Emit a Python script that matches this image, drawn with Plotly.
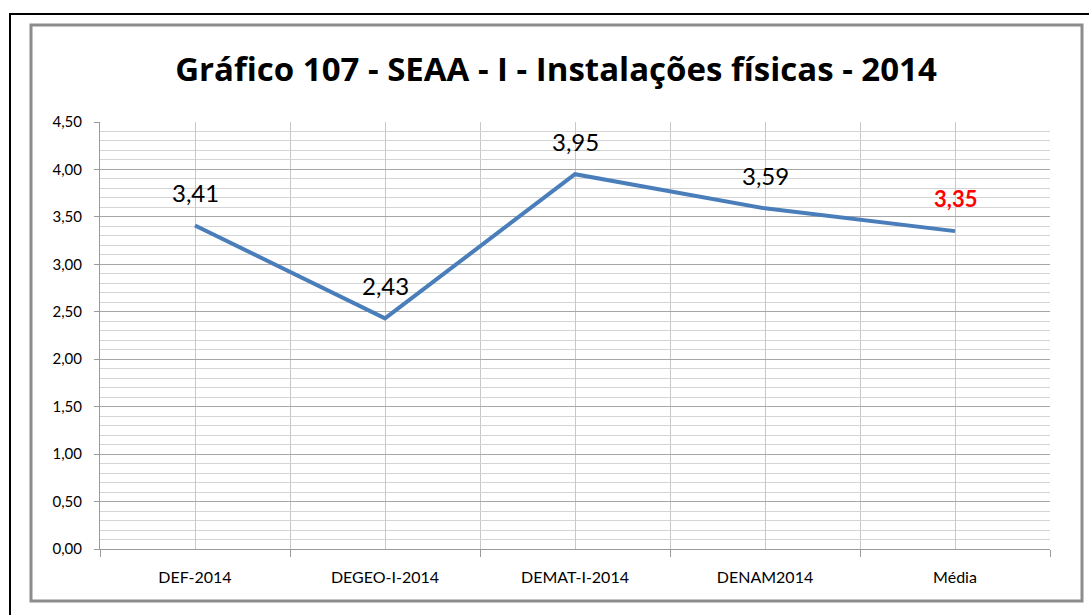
import plotly.graph_objects as go

categories = ["DEF-2014", "DEGEO-I-2014", "DEMAT-I-2014", "DENAM2014", "Média"]
values = [3.41, 2.43, 3.95, 3.59, 3.35]
title_text = "Gráfico 107 - SEAA - I - Instalações físicas - 2014"

W, H = 1089, 615
L, R, T, B = 100, 39, 122, 66
pw, ph = W - L - R, H - T - B

def px_x(v):
    return (v - L) / pw

def px_y(v):
    return (H - B - v) / ph

xs = list(range(len(categories)))

fig = go.Figure()
fig.add_trace(go.Scatter(
    x=xs, y=values, mode="lines",
    line=dict(color="#4a7ebb", width=4),
    hoverinfo="skip", showlegend=False,
))

# value labels above each point
for i, (x, v) in enumerate(zip(xs, values)):
    last = i == len(values) - 1
    fig.add_annotation(
        x=x, y=v, text=f"{v:.2f}".replace(".", ","),
        showarrow=False, yshift=33,
        font=dict(family="Lato", size=24 if not last else 22,
                  color="#ff0000" if last else "#000000",
                  weight="bold" if last else "normal"),
    )

# outer frame and inner chart border
fig.add_shape(type="rect", xref="paper", yref="paper",
              x0=px_x(10), x1=px_x(1100), y0=px_y(14), y1=px_y(630),
              line=dict(color="#000000", width=2), layer="above")
fig.add_shape(type="rect", xref="paper", yref="paper",
              x0=px_x(31), x1=px_x(1082), y0=px_y(25), y1=px_y(601),
              line=dict(color="#8c8c8c", width=3), layer="above")

fig.update_layout(
    width=W, height=H,
    margin=dict(l=L, r=R, t=T, b=B),
    paper_bgcolor="white", plot_bgcolor="white",
    separators=",.",
    title=dict(text=title_text, x=556 / W, xref="container", xanchor="center",
               y=1 - 69 / H, yanchor="middle",
               font=dict(family="Open Sans", size=33, color="#000000", weight="bold")),
    xaxis=dict(
        range=[-0.5, len(categories) - 0.5],
        tickvals=xs, ticktext=categories,
        ticks="", ticklabelstandoff=14,
        showgrid=True, gridcolor="#c8c8c8", gridwidth=1,
        showline=True, linecolor="#9a9a9a", linewidth=1, mirror=False,
        zeroline=False,
        tickfont=dict(family="Lato", size=16, color="#000000"),
        minor=dict(tick0=-0.5, dtick=1, ticks="outside", ticklen=7,
                   tickcolor="#9a9a9a", showgrid=True, gridcolor="#c8c8c8"),
        fixedrange=True,
    ),
    yaxis=dict(
        range=[0, 4.5], dtick=0.5, tick0=0, tickformat=".2f",
        ticks="outside", ticklen=5, tickcolor="#9a9a9a", ticklabelstandoff=9,
        showgrid=True, gridcolor="#a6a6a6", gridwidth=1,
        showline=True, linecolor="#9a9a9a", linewidth=1,
        zeroline=False,
        tickfont=dict(family="Lato", size=15, color="#000000"),
        minor=dict(dtick=0.1, showgrid=True, gridcolor="#d4d4d4", ticks=""),
        fixedrange=True,
    ),
)

fig.write_html("out.html")
